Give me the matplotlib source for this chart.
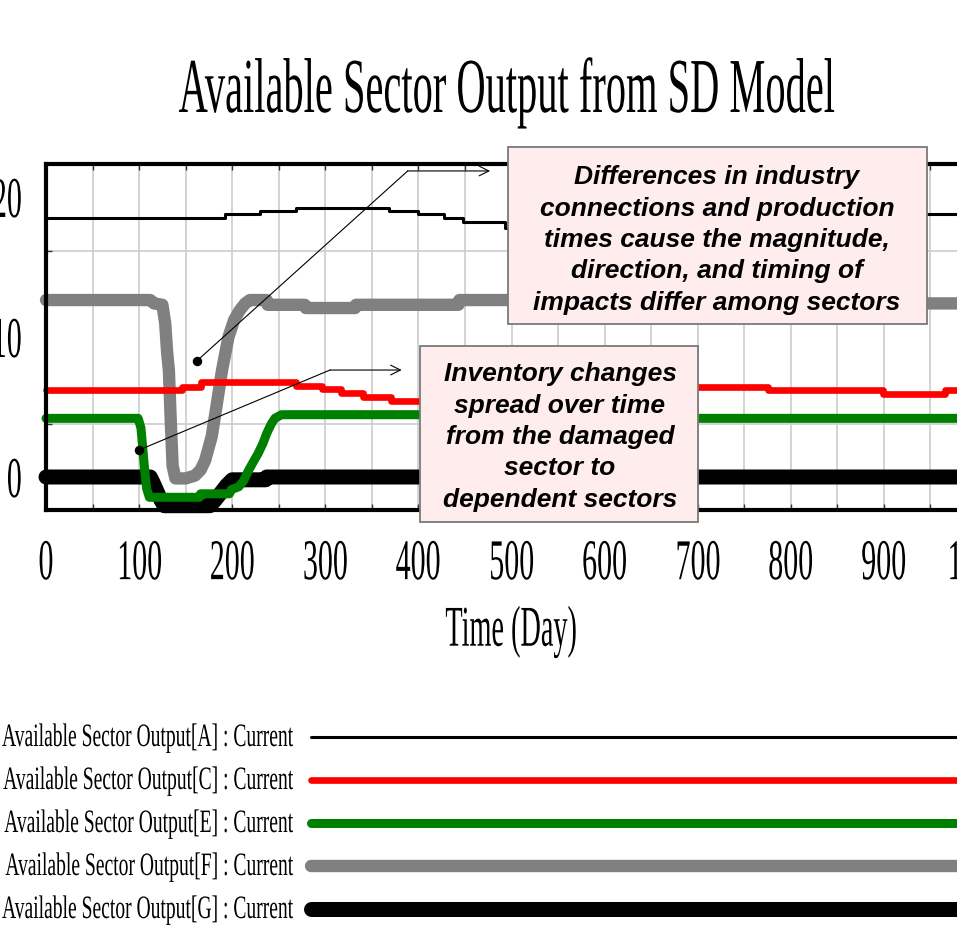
import numpy as np
import matplotlib
matplotlib.use("Agg")
import matplotlib.pyplot as plt
from matplotlib.patheffects import AbstractPathEffect
from matplotlib.transforms import Affine2D
from matplotlib.patches import Rectangle
from matplotlib.lines import Line2D
from matplotlib.ticker import FixedLocator, MultipleLocator

# ---------------- data ----------------
title = "Available Sector Output from SD Model"
x_label = "Time (Day)"
x_ticks = list(range(0, 1001, 100))
y_ticks = [0, 10, 20]
y_limits = (-2.357, 22.357)

legend_labels = [
    "Available Sector Output[A] : Current",
    "Available Sector Output[C] : Current",
    "Available Sector Output[E] : Current",
    "Available Sector Output[F] : Current",
    "Available Sector Output[G] : Current",
]

# Sector A (step series)
a_days = [0, 192, 230, 269, 368, 400, 427, 448, 493, 580, 700, 790, 860, 915, 1000]
a_vals = [18.48, 18.79, 19.02, 19.24, 19.02, 18.79, 18.48, 18.24, 17.79, 17.55,
          17.79, 18.24, 18.48, 18.79, 18.79]

# Sector C (step series)
c_days = [0, 146, 167, 269, 296, 317, 340, 371, 470, 540, 610, 660, 776, 899, 966, 1000]
c_vals = [6.24, 6.45, 6.76, 6.52, 6.26, 5.98, 5.69, 5.43, 5.69, 5.98, 6.26, 6.45,
          6.21, 5.93, 6.21, 6.21]

# Sector E
e_days = [0, 99, 102, 104, 106, 108, 111, 165, 166, 197, 199, 207, 212, 217, 222,
          228, 233, 237, 242, 246, 253, 520, 521, 1000]
e_vals = [4.19, 4.19, 3.5, 2.0, 0.5, -0.8, -1.45, -1.45, -1.2, -1.2, -0.9, -0.7,
          -0.3, 0.4, 1.0, 1.7, 2.4, 3.1, 3.8, 4.2, 4.45, 4.45, 4.19, 4.19]

# Sector F
f_days = [0, 112, 116, 125, 128, 130, 132, 134, 136, 139, 150, 160, 166, 171, 178,
          183, 189, 196, 202, 208, 214, 219, 237, 238, 278, 279, 332, 333, 443, 444,
          940, 941, 1000]
f_vals = [12.64, 12.64, 12.4, 12.3, 11.0, 9.0, 7.6, 4.0, 0.8, -0.1, -0.1, 0.1, 0.5,
          1.2, 2.9, 5.0, 7.6, 10.0, 11.2, 11.9, 12.4, 12.64, 12.64, 12.3, 12.3,
          12.07, 12.07, 12.3, 12.3, 12.64, 12.64, 12.4, 12.4]

# Sector G
g_days = [0, 112, 115, 119, 123, 127, 176, 181, 187, 194, 200, 236, 237, 1000]
g_vals = [0, 0, -0.4, -1.0, -1.6, -2.05, -2.05, -1.7, -1.2, -0.6, -0.2, -0.2, 0, 0]

# annotations (day, value)
note1_text = ("Differences in industry\nconnections and production\n"
              "times cause the magnitude,\ndirection, and timing of\n"
              "impacts differ among sectors")
note1_path = [(162, 8.29), (388.5, 21.86), (477, 21.86)]
note2_text = ("Inventory changes\nspread over time\nfrom the damaged\n"
              "sector to\ndependent sectors")
note2_path = [(100, 1.93), (305, 7.64), (382, 7.64)]

# ---------------- helpers ----------------
W, H = 957, 925


def FX(x):
    return x / W


def FY(y):
    return 1 - y / H


class Squeeze(AbstractPathEffect):
    """Horizontally condense text glyphs (narrow Times look)."""

    def __init__(self, sx, anchor="center"):
        super().__init__()
        self.sx = sx
        self.anchor = anchor

    def draw_path(self, renderer, gc, tpath, affine, rgbFace=None):
        ext = tpath.get_extents()
        if self.anchor == "left":
            cx = 0.0
        elif self.anchor == "right":
            cx = ext.x1
        else:
            cx = 0.5 * (ext.x0 + ext.x1)
        t = Affine2D().translate(-cx, 0).scale(self.sx, 1).translate(cx, 0) + affine
        renderer.draw_path(gc, tpath, t, rgbFace)


SERIF = "Liberation Serif"

fig = plt.figure(figsize=(W / 100, H / 100), dpi=100)
ax = fig.add_axes([FX(46), FY(510), 931 / W, 346 / H])

styles = [
    dict(color="black", lw=2.2),
    dict(color="#ff0000", lw=4.8),
    dict(color="#008000", lw=6.5),
    dict(color="#808080", lw=8.9),
    dict(color="black", lw=10.8),
]
series = [(a_days, a_vals, "steps-post"), (c_days, c_vals, "steps-post"),
          (e_days, e_vals, "default"), (f_days, f_vals, "default"),
          (g_days, g_vals, "default")]

for i, ((d, v, ds), st) in enumerate(zip(series, styles)):
    ax.plot(d, v, drawstyle=ds, color=st["color"], lw=st["lw"],
            solid_capstyle="round", solid_joinstyle="round",
            zorder=2.5 - 0.1 * i, clip_on=False)

ax.set_xlim(0, 1000)
ax.set_ylim(*y_limits)

ax.xaxis.set_major_locator(FixedLocator(x_ticks))
ax.xaxis.set_minor_locator(MultipleLocator(50))
ax.yaxis.set_major_locator(FixedLocator(y_ticks))
ax.yaxis.set_minor_locator(FixedLocator(list(np.linspace(*y_limits, 5)[1:-1])))

ax.set_xticklabels([str(t) for t in x_ticks], fontsize=41.5, family=SERIF)
ax.set_yticklabels([str(t) for t in y_ticks], fontsize=41.5, family=SERIF)
for lab in ax.get_xticklabels():
    lab.set_path_effects([Squeeze(0.52, "center")])
for lab in ax.get_yticklabels():
    lab.set_path_effects([Squeeze(0.52, "right")])

ax.tick_params(axis="x", which="both", direction="in", length=4, width=1,
               color="#333333", top=True, bottom=True)
ax.tick_params(axis="x", which="major", pad=21)
ax.tick_params(axis="y", which="major", length=0, pad=16.6)
ax.tick_params(axis="y", which="minor", direction="in", length=4, width=1,
               color="#333333", left=True, right=True)

ax.set_axisbelow(True)
ax.grid(True, axis="x", which="both", color="#cccccc", lw=1.2)
ax.grid(True, axis="y", which="minor", color="#cccccc", lw=1.2)

for side, sp in ax.spines.items():
    sp.set_linewidth(3)
    sp.set_zorder(3)
ax.spines["right"].set_visible(False)

xl = ax.set_xlabel(x_label, fontsize=41.5, family=SERIF, labelpad=10.6)
xl.set_path_effects([Squeeze(0.49, "center")])

# annotations
for path in (note1_path, note2_path):
    (x0, y0), (x1, y1), (x2, y2) = path
    ax.plot([x0, x1], [y0, y1], color="black", lw=0.8, zorder=6, clip_on=False)
    ax.plot([x0], [y0], "o", color="black", ms=5.8, zorder=6, clip_on=False)
    ax.annotate("", xy=(x2, y2), xytext=(x1, y1), annotation_clip=False, zorder=6,
                arrowprops=dict(arrowstyle="->,head_length=0.7,head_width=0.35",
                                lw=0.8, color="black", shrinkA=0, shrinkB=0))

# title
fig.text(FX(507), FY(112), title, ha="center", va="baseline", fontsize=56,
         family=SERIF, path_effects=[Squeeze(0.52, "center")])

# note boxes
for (bx0, by0, bx1, by1, tx, ty, txt) in [
        (508, 147, 927, 324, 717, 240, note1_text),
        (420, 346, 698, 522, 560, 437, note2_text)]:
    fig.add_artist(Rectangle((FX(bx0), FY(by1)), (bx1 - bx0) / W, (by1 - by0) / H,
                             transform=fig.transFigure, facecolor="#ffeded",
                             edgecolor="#7a7a7a", lw=1.3, zorder=4))
    fig.text(FX(tx), FY(ty), txt, ha="center", va="center", multialignment="center",
             fontsize=19, family="Liberation Sans", weight="bold", style="italic",
             linespacing=1.39, zorder=5)

# legend (manual, Vensim style)
row_y = [737, 780, 823, 866, 909]
for lab, st, ry in zip(legend_labels, styles, row_y):
    fig.text(FX(293), FY(ry + 9), lab, ha="right", va="baseline", fontsize=23.5,
             family=SERIF, path_effects=[Squeeze(0.6, "right")])
    fig.add_artist(Line2D([FX(311), FX(1000)], [FY(ry), FY(ry)],
                          transform=fig.transFigure, color=st["color"], lw=st["lw"],
                          solid_capstyle="round"))

fig.savefig("out.png", dpi=100)
